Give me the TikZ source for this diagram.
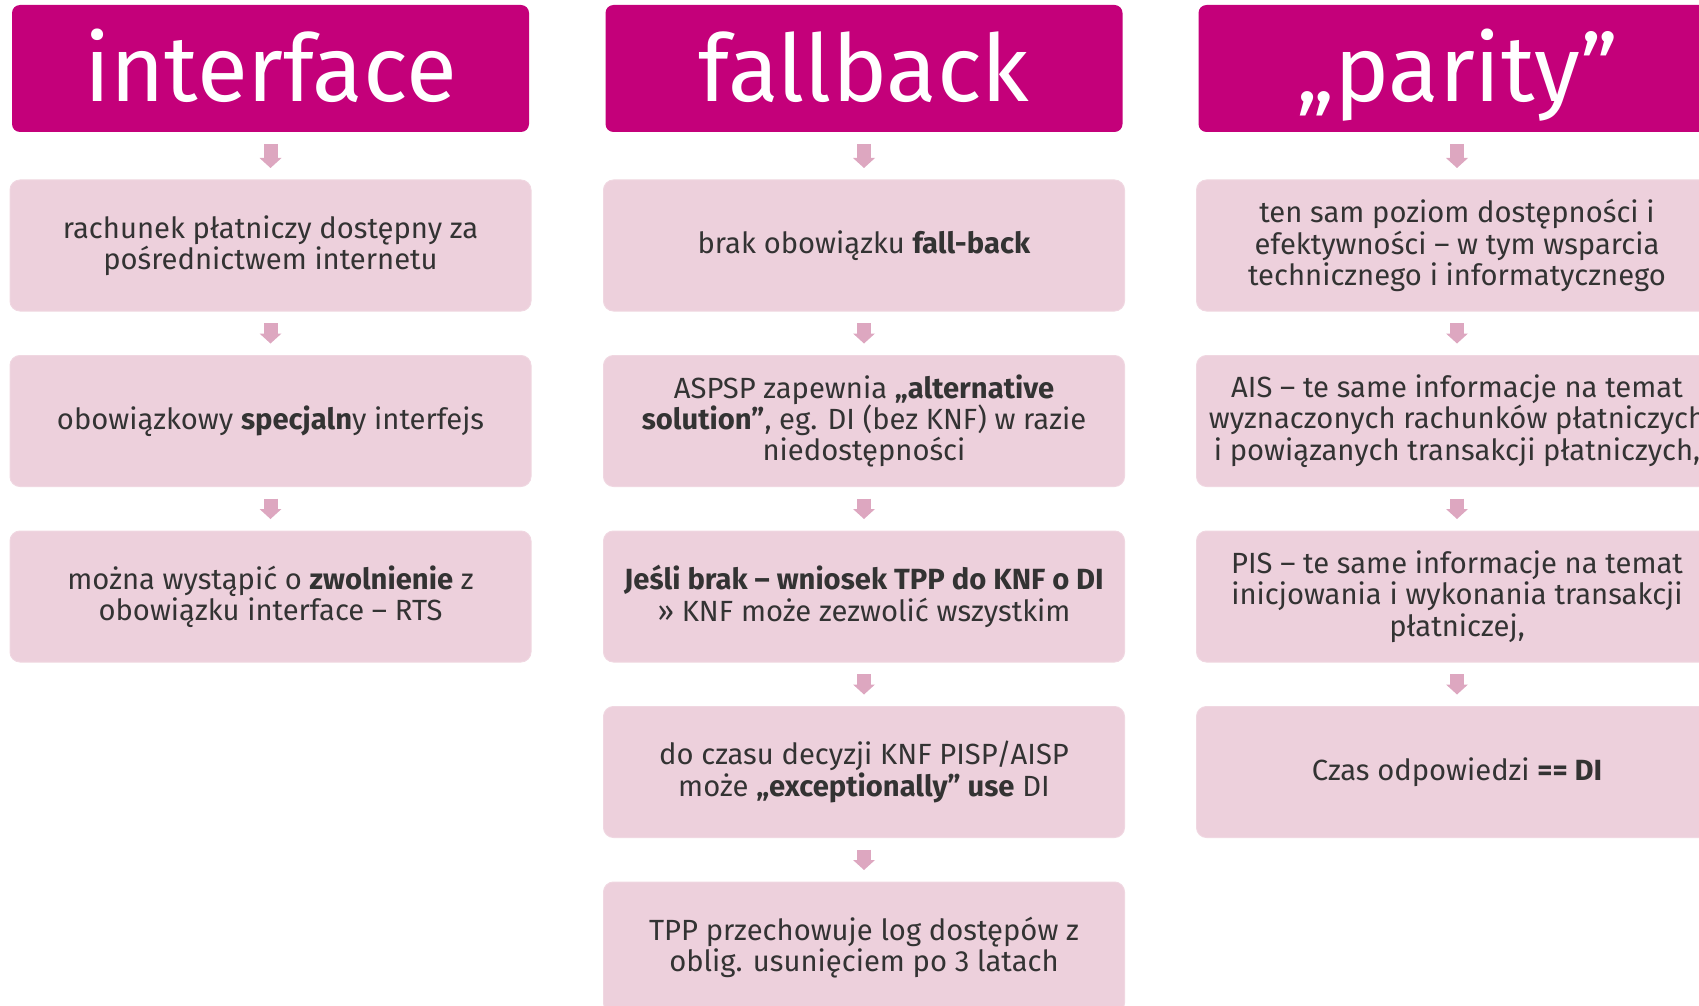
\documentclass[tikz,border=0pt]{standalone}
\usepackage{fontspec}
\setmainfont{Fira Sans}
\usetikzlibrary{arrows.meta}
\definecolor{headmag}{HTML}{C4007A}
\definecolor{cardpink}{HTML}{EDD0DC}
\definecolor{cardline}{HTML}{F0D7E1}
\definecolor{arrowpink}{HTML}{DDA7C0}
\definecolor{textgray}{HTML}{333333}
\tikzset{
  head/.style={fill=headmag, rounded corners=4pt, minimum width=258.5pt, minimum height=63.5pt,
    inner sep=0pt, text=white, font=\fontsize{46.5}{52}\selectfont, text height=36pt, text depth=2.5pt},
  card/.style={fill=cardpink, draw=cardline, line width=0.5pt, rounded corners=5pt,
    minimum width=260.5pt, minimum height=65.5pt, inner sep=0pt, align=center, text=textgray,
    font=\fontsize{14.6}{15.7}\selectfont},
  down/.style={arrowpink, line width=7pt, shorten <=5.75pt, shorten >=5.75pt,
    -{Triangle[width=11pt,length=5pt,line width=0pt]}}
}
\begin{document}
\begin{tikzpicture}[x=0.5pt,y=-0.5pt]
    \useasboundingbox (0,0) rectangle (1699,1006);
    \clip (0,0) rectangle (1699,1006);
    \node[head] (h1) at (270.5,68.5) {interface};
    \node[head] (h2) at (864,68.5) {fallback};
    \node[head] (h3) at (1457,68.5) {„parity”};

    \node[card] (n11) at (270.5,245.5) {rachunek płatniczy dostępny za\\pośrednictwem internetu};
    \node[card] (n12) at (270.5,421) {obowiązkowy \textbf{specjaln}y interfejs};
    \node[card] (n13) at (270.5,596.5) {można wystąpić o \textbf{zwolnienie} z\\obowiązku interface – RTS};

    \node[card] (n21) at (864,245.5) {brak obowiązku \textbf{fall-back}};
    \node[card] (n22) at (864,421) {ASPSP zapewnia \textbf{„alternative}\\\textbf{solution”}, eg. DI (bez KNF) w razie\\niedostępności};
    \node[card] (n23) at (864,596.5) {\textbf{Jeśli brak – wniosek TPP do KNF o DI}\\» KNF może zezwolić wszystkim};
    \node[card] (n24) at (864,772) {do czasu decyzji KNF PISP/AISP\\może \textbf{„exceptionally” use} DI};
    \node[card] (n25) at (864,947.5) {TPP przechowuje log dostępów z\\oblig. usunięciem po 3 latach};

    \node[card] (n31) at (1457,245.5) {ten sam poziom dostępności i\\efektywności – w tym wsparcia\\technicznego i informatycznego};
    \node[card] (n32) at (1457,421) {AIS – te same informacje na temat\\wyznaczonych rachunków płatniczych\\i powiązanych transakcji płatniczych,};
    \node[card] (n33) at (1457,596.5) {PIS – te same informacje na temat\\inicjowania i wykonania transakcji\\płatniczej,};
    \node[card] (n34) at (1457,772) {Czas odpowiedzi \textbf{== DI}};

    \foreach \a/\b in {h1/n11,n11/n12,n12/n13,h2/n21,n21/n22,n22/n23,n23/n24,n24/n25,
                       h3/n31,n31/n32,n32/n33,n33/n34}
        \draw[down] (\a) -- (\b);
\end{tikzpicture}
\end{document}
